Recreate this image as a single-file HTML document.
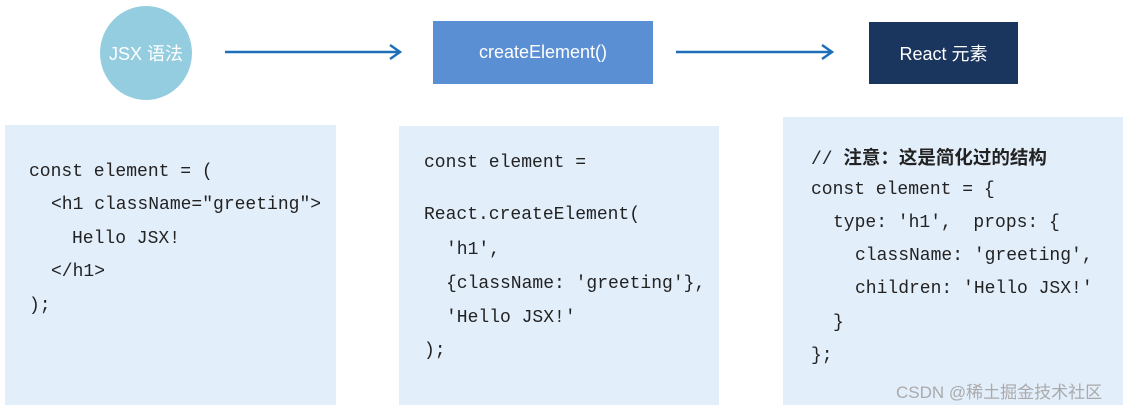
<!DOCTYPE html>
<html><head><meta charset="utf-8"><style>
body{margin:0;width:1134px;height:409px;background:#fff;position:relative;overflow:hidden;font-family:"Liberation Sans","Noto Sans CJK SC",sans-serif}
.box{position:absolute;background:#e3eefb}
.l{position:absolute;font-family:"Liberation Mono","Noto Sans CJK SC",monospace;font-size:18px;color:#222;white-space:pre;line-height:20px}
.n{position:absolute;color:#fff;font-size:18px;display:flex;align-items:center;justify-content:center}
</style></head><body>
<div class="n" style="left:100px;top:6px;width:92px;height:94px;border-radius:50%;background:#95cde0">JSX 语法</div>
<div class="n" style="left:433px;top:21px;width:220px;height:63px;background:#5b8fd4">createElement()</div>
<div class="n" style="left:869px;top:22px;width:149px;height:62px;background:#1a365f">React 元素</div>
<svg style="position:absolute;left:0;top:0" width="1134" height="120">
<g stroke="#1f6fb8" stroke-width="2.5" fill="none">
<line x1="225" y1="52" x2="400" y2="52"/><polyline points="390,45 400,52 390,59"/>
<line x1="676" y1="52" x2="832" y2="52"/><polyline points="822,45 832,52 822,59"/>
</g></svg>
<div class="box" style="left:5px;top:125px;width:331px;height:280px"></div>
<div class="box" style="left:399px;top:126px;width:320px;height:279px"></div>
<div class="box" style="left:783px;top:117px;width:340px;height:288px"></div>
<div class="l" style="left:29px;top:162px">const element = (</div>
<div class="l" style="left:51px;top:195px">&lt;h1 className="greeting"&gt;</div>
<div class="l" style="left:72px;top:229px">Hello JSX!</div>
<div class="l" style="left:51px;top:262px">&lt;/h1&gt;</div>
<div class="l" style="left:29px;top:296px">);</div>
<div class="l" style="left:424px;top:153px">const element =</div>
<div class="l" style="left:424px;top:205px">React.createElement(</div>
<div class="l" style="left:446px;top:240px">'h1',</div>
<div class="l" style="left:446px;top:274px">{className: 'greeting'},</div>
<div class="l" style="left:446px;top:308px">'Hello JSX!'</div>
<div class="l" style="left:424px;top:341px">);</div>
<div class="l" style="left:811px;top:147px">// <span style="font-family:'Noto Sans CJK SC',sans-serif;font-size:18.5px;font-weight:bold">注意：这是简化过的结构</span></div>
<div class="l" style="left:811px;top:180px">const element = {</div>
<div class="l" style="left:833px;top:213px">type: 'h1',  props: {</div>
<div class="l" style="left:855px;top:246px">className: 'greeting',</div>
<div class="l" style="left:855px;top:279px">children: 'Hello JSX!'</div>
<div class="l" style="left:833px;top:313px">}</div>
<div class="l" style="left:811px;top:346px">};</div>
<div style="position:absolute;left:896px;top:378px;font-size:17px;color:#aaa">CSDN @稀土掘金技术社区</div>
</body></html>
